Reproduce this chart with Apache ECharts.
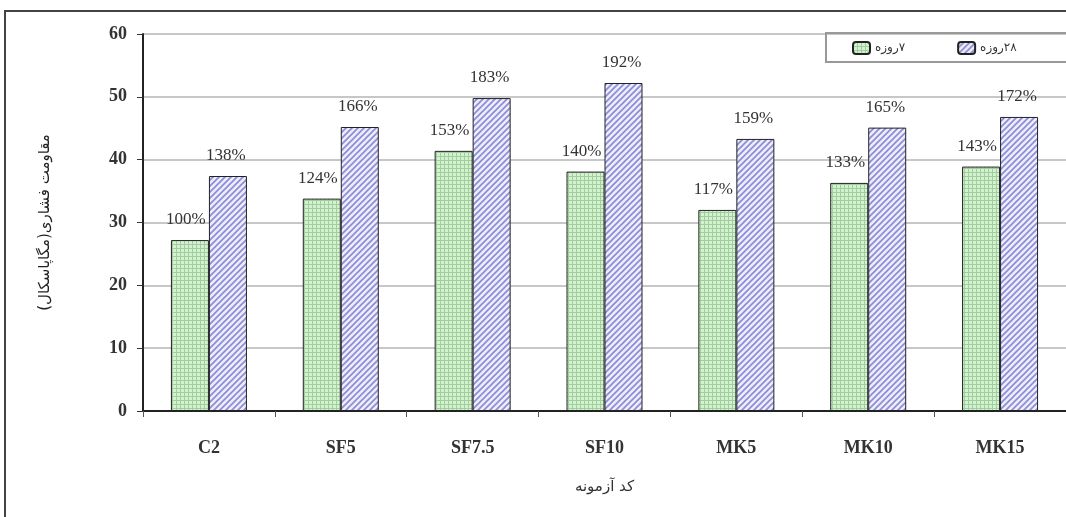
<!DOCTYPE html>
<html>
<head>
<meta charset="utf-8">
<script src="https://cdn.jsdelivr.net/npm/echarts@6/dist/echarts.min.js"></script>
<style>
html, body { margin: 0; padding: 0; background: #fff; }
#chartDiv { width: 1066px; height: 517px; }
</style>
</head>
<body>
<div id="chartDiv"></div>
<script>
var categories = ['C2', 'SF5', 'SF7.5', 'SF10', 'MK5', 'MK10', 'MK15'];
var day7 = [27.2, 33.8, 41.4, 38.1, 32.0, 36.3, 38.9];
var day28 = [37.4, 45.2, 49.8, 52.2, 43.3, 45.1, 46.8];
var day7Labels = ['100%', '124%', '153%', '140%', '117%', '133%', '143%'];
var day28Labels = ['138%', '166%', '183%', '192%', '159%', '165%', '172%'];
var yTicks = [0, 10, 20, 30, 40, 50, 60];
// RLM in front keeps the digit on the right like the original
var seriesNames = ['\u200F۷روزه', '\u200F۲۸روزه'];

// patterns for the bar fills
function dotPattern() {
	var c = document.createElement('canvas');
	c.width = 4;
	c.height = 4;
	var ctx = c.getContext('2d');
	ctx.fillStyle = '#d6f0d2';
	ctx.fillRect(0, 0, 4, 4);
	ctx.fillStyle = '#9fcf9c';
	ctx.fillRect(0, 0, 4, 1);
	ctx.fillRect(0, 0, 1, 4);
	return c;
}

function hatchPattern() {
	var c = document.createElement('canvas');
	c.width = 6;
	c.height = 6;
	var ctx = c.getContext('2d');
	ctx.fillStyle = '#ececfb';
	ctx.fillRect(0, 0, 6, 6);
	ctx.strokeStyle = '#8a8ad6';
	ctx.lineWidth = 1.6;
	ctx.beginPath();
	ctx.moveTo(0, 6); ctx.lineTo(6, 0);
	ctx.moveTo(-3, 3); ctx.lineTo(3, -3);
	ctx.moveTo(3, 9); ctx.lineTo(9, 3);
	ctx.stroke();
	return c;
}

var chart = echarts.init(document.getElementById('chartDiv'));

var labelStyle = {
	show: true,
	position: 'top',
	distance: 12,
	fontFamily: 'Liberation Serif',
	fontSize: 17,
	color: '#333'
};

var option = {
	animation: false,
	graphic: [{
		type: 'rect',
		shape: { x: 5, y: 11, width: 1200, height: 600 },
		style: { fill: 'none', stroke: '#444', lineWidth: 2 }
	}],
	legend: {
		orient: 'horizontal',
		left: 826,
		top: 33,
		width: 400,
		padding: [8, 120, 7, 26],
		itemGap: 52,
		itemWidth: 17,
		itemHeight: 12,
		borderColor: '#999',
		borderWidth: 2,
		textStyle: { fontFamily: 'DejaVu Sans', fontSize: 12, color: '#333' },
		data: seriesNames
	},
	grid: {
		left: 143,
		right: -1,
		top: 34,
		bottom: 106
	},
	xAxis: {
		type: 'category',
		data: categories,
		name: 'کد آزمونه',
		nameLocation: 'middle',
		nameGap: 69,
		nameTextStyle: { fontFamily: 'DejaVu Sans', fontSize: 15, color: '#333' },
		axisLine: { lineStyle: { color: '#222', width: 2 } },
		axisTick: { show: true, length: 6, lineStyle: { color: '#555' } },
		axisLabel: {
			margin: 28,
			fontFamily: 'Liberation Serif',
			fontWeight: 'bold',
			fontSize: 18,
			color: '#333'
		}
	},
	yAxis: {
		type: 'value',
		min: yTicks[0],
		max: yTicks[yTicks.length - 1],
		interval: 10,
		name: 'مقاومت فشاری(مگاپاسکال)',
		nameLocation: 'middle',
		nameGap: 90,
		nameRotate: 90,
		nameTextStyle: { fontFamily: 'DejaVu Sans', fontSize: 15, color: '#222' },
		axisLine: { show: true, lineStyle: { color: '#222', width: 2 } },
		axisTick: { show: true, length: 6, lineStyle: { color: '#333' } },
		axisLabel: {
			margin: 16,
			fontFamily: 'Liberation Serif',
			fontWeight: 'bold',
			fontSize: 18,
			color: '#333'
		},
		splitLine: { show: true, lineStyle: { color: '#b4b4b4', width: 1.5 } }
	},
	series: [
		{
			name: seriesNames[0],
			type: 'bar',
			data: day7,
			barWidth: 38,
			barGap: '0%',
			itemStyle: {
				color: { image: dotPattern(), repeat: 'repeat' },
				borderColor: '#222',
				borderWidth: 1
			},
			label: Object.assign({}, labelStyle, {
				offset: [-4, 0],
				formatter: function (p) { return day7Labels[p.dataIndex]; }
			})
		},
		{
			name: seriesNames[1],
			type: 'bar',
			data: day28,
			barWidth: 38,
			itemStyle: {
				color: { image: hatchPattern(), repeat: 'repeat' },
				borderColor: '#222',
				borderWidth: 1
			},
			label: Object.assign({}, labelStyle, {
				offset: [-2, 0],
				formatter: function (p) { return day28Labels[p.dataIndex]; }
			})
		}
	]
};

chart.setOption(option);
</script>
</body>
</html>
